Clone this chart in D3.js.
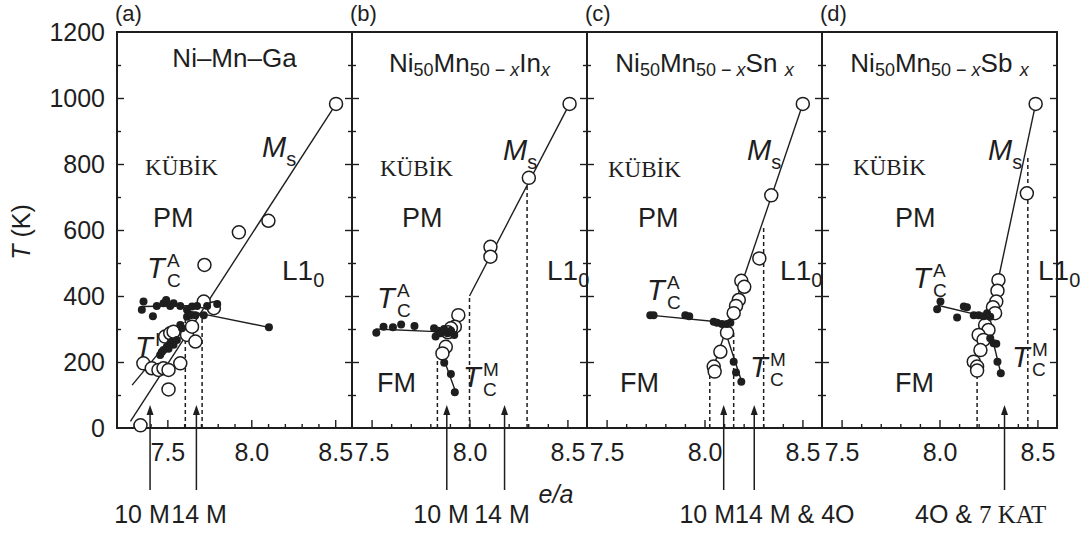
<!DOCTYPE html>
<html>
<head>
<meta charset="utf-8">
<script src="https://cdn.jsdelivr.net/npm/d3@7"></script>
<style>
body { margin: 0; background: #fff; }
</style>
</head>
<body>
<div id="chart"></div>
<script>
// ---- values ----
var panelIds = ["a", "b", "c", "d"];
var eaDomains = [[7.2, 8.6], [7.4, 8.6], [7.4, 8.6], [7.4, 8.6]];
var eaMajor = [7.5, 8.0, 8.5];
var eaMinor = [7.3, 7.4, 7.6, 7.7, 7.8, 7.9, 8.1, 8.2, 8.3, 8.4];
var tempTicks = [0, 200, 400, 600, 800, 1000, 1200];
var tempMinor = [100, 300, 500, 700, 900, 1100];

// (a) Ni-Mn-Ga   points are [e/a, T]
var openA = [[7.34, 8], [7.357, 196], [7.407, 181], [7.447, 176], [7.477, 181], [7.507, 176],
  [7.577, 196], [7.507, 117], [7.487, 277], [7.517, 287], [7.537, 292], [7.617, 282],
  [7.647, 307], [7.667, 262], [7.717, 383], [7.777, 363], [7.721, 494], [7.926, 593],
  [8.102, 628], [8.505, 982]];
var filledA = [[7.358, 383], [7.348, 358], [7.414, 339], [7.437, 370], [7.477, 378], [7.493, 388],
  [7.517, 370], [7.537, 378], [7.577, 370], [7.617, 358], [7.647, 368], [7.677, 370],
  [7.717, 342], [7.737, 370], [7.797, 376], [8.105, 305],
  [7.457, 221], [7.467, 230], [7.477, 236], [7.497, 246], [7.507, 240], [7.517, 257],
  [7.527, 262], [7.537, 252], [7.557, 267], [7.577, 312], [7.587, 302], [7.617, 337],
  [7.637, 342], [7.667, 342]];
var linesA = [[[7.28, 20], [8.505, 982]], [[7.29, 130], [7.6, 320]],
  [[7.35, 368], [7.8, 372]], [[7.62, 355], [8.105, 305]]];
var dashA = [[7.607, 337], [7.707, 342]];
var arrowsA = [7.397, 7.673];

// (b) Ni50Mn50-xInx
var openB = [[8.511, 982], [8.303, 758], [8.107, 549], [8.107, 519], [7.943, 342], [7.925, 307],
  [7.905, 302], [7.879, 246], [7.862, 226], [7.89, 290]];
var filledB = [[7.524, 289], [7.561, 307], [7.609, 305], [7.651, 314], [7.719, 309], [7.819, 302],
  [7.827, 277], [7.84, 295], [7.853, 287], [7.87, 300], [7.888, 287], [7.905, 295],
  [7.922, 282], [7.871, 198], [7.905, 164], [7.925, 108]];
var linesB = [[[7.52, 300], [7.83, 292]], [[7.85, 240], [7.93, 108]], [[8.0, 400], [8.511, 982]]];
var dashB = [[7.836, 216], [8.0, 400], [8.294, 758]];
var arrowsB = [7.884, 8.179];

// (c) Ni50Mn50-xSnx
var openC = [[8.502, 982], [8.341, 705], [8.28, 514], [8.188, 446], [8.203, 428], [8.175, 388],
  [8.161, 370], [8.149, 348], [8.115, 289], [8.081, 231], [8.047, 186], [8.052, 171]];
var filledC = [[7.723, 342], [7.74, 342], [7.902, 342], [7.922, 339], [8.047, 322], [8.064, 319],
  [8.089, 315], [8.115, 315], [8.132, 319], [8.149, 201], [8.161, 168], [8.188, 140]];
var linesC = [[[7.72, 342], [8.13, 318]], [[8.09, 322], [8.19, 140]], [[8.04, 175], [8.502, 982]]];
var dashC = [[8.027, 175], [8.149, 290], [8.302, 612]];
var arrowsC = [8.098, 8.254];

// (d) Ni50Mn50-xSbx
var openD = [[8.491, 982], [8.446, 711], [8.301, 448], [8.296, 416], [8.29, 383], [8.273, 366],
  [8.284, 348], [8.233, 312], [8.25, 297], [8.2, 282], [8.225, 267], [8.209, 236],
  [8.175, 201], [8.192, 186], [8.192, 174]];
var filledD = [[8.005, 383], [7.988, 360], [8.09, 335], [8.124, 368], [8.14, 366], [8.175, 342],
  [8.2, 342], [8.225, 339], [8.243, 348], [8.259, 337], [8.259, 272], [8.276, 257],
  [8.29, 255], [8.296, 201], [8.313, 166]];
var linesD = [[[7.99, 372], [8.2, 342]], [[8.24, 345], [8.313, 166]], [[8.30, 450], [8.491, 982]]];
var dashD = [[8.192, 160], [8.451, 820]];
var arrowsD = [8.332];

// titles (sub = subscript, it = italic)
var titleA = [{t: "Ni–Mn–Ga"}];
var titleB = [{t: "Ni"}, {t: "50", sub: 1}, {t: "Mn"}, {t: "50 − ", sub: 1}, {t: "x", sub: 1, it: 1}, {t: "In"}, {t: "x", sub: 1, it: 1}];
var titleC = [{t: "Ni"}, {t: "50", sub: 1}, {t: "Mn"}, {t: "50 − ", sub: 1}, {t: "x", sub: 1, it: 1}, {t: "Sn "}, {t: "x", sub: 1, it: 1}];
var titleD = [{t: "Ni"}, {t: "50", sub: 1}, {t: "Mn"}, {t: "50 − ", sub: 1}, {t: "x", sub: 1, it: 1}, {t: "Sb "}, {t: "x", sub: 1, it: 1}];

// region / line labels, anchored at [e/a, T]
var notesA = [["kubik", 7.367, 767], ["PM", 7.414, 609], ["TCA", 7.379, 455], ["TI", 7.307, 215], ["L10", 8.183, 448], ["Ms", 8.064, 821]];
var notesB = [["kubik", 7.543, 764], ["PM", 7.655, 609], ["TCA", 7.528, 364], ["FM", 7.528, 109], ["TCM", 7.967, 124], ["L10", 8.396, 448], ["Ms", 8.171, 812]];
var notesC = [["kubik", 7.507, 761], ["PM", 7.66, 609], ["TCA", 7.706, 388], ["FM", 7.569, 109], ["TCM", 8.232, 155], ["L10", 8.386, 448], ["Ms", 8.217, 812]];
var notesD = [["kubik", 7.558, 767], ["PM", 7.773, 609], ["TCA", 7.865, 424], ["FM", 7.773, 109], ["TCM", 8.37, 185], ["L10", 8.503, 448], ["Ms", 8.248, 812]];

// structure labels under the arrows: [e/a, text, anchor]
var bottomA = [[7.349, "10 M", "middle"], [7.689, "14 M", "middle"]];
var bottomB = [[7.855, "10 M", "middle"], [8.166, "14 M", "middle"]];
var bottomC = [[8.156, "10 M", "end"], [8.156, "14 M & 4O", "start"]];
var bottomD = [[7.875, "4O & ", "start"]];

// ---- layout ----
var W = 1083, H = 535;
var plotL = 117, plotR = 1057, plotT = 32, plotB = 428;
var panelW = (plotR - plotL) / 4;
var sans = "'Liberation Sans', Arial, sans-serif";
var serif = "'Liberation Serif', 'Times New Roman', serif";
var ink = "#1e1e1e";

var panels = [
  {open: openA, filled: filledA, lines: linesA, dash: dashA, arrows: arrowsA, title: titleA, notes: notesA, bottom: bottomA, tY: 67},
  {open: openB, filled: filledB, lines: linesB, dash: dashB, arrows: arrowsB, title: titleB, notes: notesB, bottom: bottomB, tY: 72},
  {open: openC, filled: filledC, lines: linesC, dash: dashC, arrows: arrowsC, title: titleC, notes: notesC, bottom: bottomC, tY: 72},
  {open: openD, filled: filledD, lines: linesD, dash: dashD, arrows: arrowsD, title: titleD, notes: notesD, bottom: bottomD, tY: 72}
];

var svg = d3.select("#chart").append("svg")
    .attr("width", W)
    .attr("height", H)
    .style("font-family", sans);

svg.append("rect").attr("width", W).attr("height", H).attr("fill", "#fff");

var y = d3.scaleLinear().domain([0, 1200]).range([plotB, plotT]);

// write text made of pieces, with sub/superscripts
function rich(sel, parts) {
  var prev = 0;
  parts.forEach(function(p) {
    var off = p.off || 0;
    sel.append("tspan")
      .attr("dy", off - prev)
      .attr("font-size", p.size)
      .attr("font-style", p.it ? "italic" : null)
      .attr("font-family", p.fam || null)
      .text(p.t);
    prev = off;
  });
}

function tcLabel(g, px, py, sup, sub) {
  g.append("text").attr("x", px).attr("y", py).attr("font-size", 29).attr("font-style", "italic").attr("fill", ink).text("T");
  if (sup) g.append("text").attr("x", px + 20).attr("y", py - 11).attr("font-size", 19).attr("fill", ink).text(sup);
  if (sub) g.append("text").attr("x", px + 20).attr("y", py + 9).attr("font-size", 19).attr("fill", ink).text(sub);
}

function note(g, x, n) {
  var px = x(n[1]), py = y(n[2]);
  if (n[0] == "kubik") {
    g.append("text").attr("x", px).attr("y", py).attr("font-family", serif).attr("font-size", 23).attr("fill", ink).text("KÜBİK");
  } else if (n[0] == "PM" || n[0] == "FM") {
    g.append("text").attr("x", px).attr("y", py).attr("font-size", 27).attr("fill", ink).text(n[0]);
  } else if (n[0] == "TCA") {
    tcLabel(g, px, py, "A", "C");
  } else if (n[0] == "TCM") {
    tcLabel(g, px, py, "M", "C");
  } else if (n[0] == "TI") {
    tcLabel(g, px, py, "I", null);
  } else if (n[0] == "L10") {
    rich(g.append("text").attr("x", px).attr("y", py).attr("fill", ink),
      [{t: "L1", size: 28}, {t: "0", size: 20, off: 7}]);
  } else if (n[0] == "Ms") {
    rich(g.append("text").attr("x", px).attr("y", py).attr("fill", ink),
      [{t: "M", size: 29, it: 1}, {t: "s", size: 20, off: 9}]);
  }
}

panels.forEach(function(p, i) {
  var x0 = plotL + i * panelW;
  var x = d3.scaleLinear().domain(eaDomains[i]).range([x0, x0 + panelW]);
  var g = svg.append("g");

  // axes with inward ticks
  var axes = [
    {ax: d3.axisBottom(x).tickValues(eaMajor).tickSize(-8).tickPadding(15).tickFormat(d3.format(".1f")), tr: "translate(0," + plotB + ")"},
    {ax: d3.axisBottom(x).tickValues(eaMinor.filter(function(v) { return v > eaDomains[i][0] && v < eaDomains[i][1]; })).tickSize(-4).tickFormat(""), tr: "translate(0," + plotB + ")"},
    {ax: d3.axisLeft(y).tickValues(tempTicks.slice(1, -1)).tickSize(-7).tickPadding(12).tickFormat(i == 0 ? d3.format("d") : ""), tr: "translate(" + x0 + ",0)"},
    {ax: d3.axisLeft(y).tickValues(tempMinor).tickSize(-4).tickFormat(""), tr: "translate(" + x0 + ",0)"},
    {ax: d3.axisRight(y).tickValues(tempTicks.slice(1, -1)).tickSize(-7).tickFormat(""), tr: "translate(" + (x0 + panelW) + ",0)"},
    {ax: d3.axisRight(y).tickValues(tempMinor).tickSize(-4).tickFormat(""), tr: "translate(" + (x0 + panelW) + ",0)"}
  ];
  axes.forEach(function(a) {
    var ag = g.append("g").attr("transform", a.tr).call(a.ax);
    ag.select(".domain").remove();
    ag.selectAll("line").attr("stroke", ink).attr("stroke-width", 1.4);
    ag.selectAll("text").attr("font-size", 25).attr("font-family", sans).attr("fill", ink);
  });
  if (i == 0) {
    // end labels 0 and 1200 on the frame corners
    var ends = g.append("g").attr("transform", "translate(" + x0 + ",0)")
      .call(d3.axisLeft(y).tickValues([0, 1200]).tickSize(0).tickPadding(12).tickFormat(d3.format("d")));
    ends.select(".domain").remove();
    ends.selectAll("text").attr("font-size", 25).attr("font-family", sans).attr("fill", ink);
  }

  // frame
  g.append("rect")
    .attr("x", x0).attr("y", plotT)
    .attr("width", panelW).attr("height", plotB - plotT)
    .attr("fill", "none").attr("stroke", ink).attr("stroke-width", 2);

  // panel letter
  g.append("text").attr("x", x0 - 2).attr("y", 21).attr("font-size", 22).attr("fill", ink).text("(" + panelIds[i] + ")");

  // title
  var tt = g.append("text").attr("x", x0 + panelW / 2).attr("y", p.tY)
    .attr("text-anchor", "middle").attr("fill", ink);
  rich(tt, p.title.map(function(s) {
    return {t: s.t, size: s.sub ? 18 : 26, it: s.it, off: s.sub ? 4 : 0};
  }));

  // dashed verticals
  g.selectAll(".dash").data(p.dash).enter().append("line")
    .attr("x1", function(d) { return x(d[0]); })
    .attr("x2", function(d) { return x(d[0]); })
    .attr("y1", y(0))
    .attr("y2", function(d) { return y(d[1]); })
    .attr("stroke", ink).attr("stroke-width", 1.5).attr("stroke-dasharray", "4,3");

  // solid lines
  var line = d3.line().x(function(d) { return x(d[0]); }).y(function(d) { return y(d[1]); });
  g.selectAll(".ln").data(p.lines).enter().append("path")
    .attr("d", line)
    .attr("fill", "none").attr("stroke", ink).attr("stroke-width", 1.4);

  // open circles
  g.selectAll(".open").data(p.open).enter().append("circle")
    .attr("cx", function(d) { return x(d[0]); })
    .attr("cy", function(d) { return y(d[1]); })
    .attr("r", 6.5)
    .attr("fill", "#fff").attr("stroke", ink).attr("stroke-width", 1.5);

  // filled dots
  g.selectAll(".fill").data(p.filled).enter().append("circle")
    .attr("cx", function(d) { return x(d[0]); })
    .attr("cy", function(d) { return y(d[1]); })
    .attr("r", 4)
    .attr("fill", ink);

  // labels inside the panel
  p.notes.forEach(function(n) { note(g, x, n); });

  // arrows from below the axis
  p.arrows.forEach(function(a) {
    var ax = x(a), tip = y(70);
    g.append("line").attr("x1", ax).attr("x2", ax).attr("y1", 490).attr("y2", tip + 6)
      .attr("stroke", ink).attr("stroke-width", 1.5);
    g.append("path")
      .attr("d", "M" + ax + "," + tip + "L" + (ax - 3.5) + "," + (tip + 10) + "L" + (ax + 3.5) + "," + (tip + 10) + "Z")
      .attr("fill", ink);
  });

  // structure labels
  p.bottom.forEach(function(b) {
    var t = g.append("text").attr("x", x(b[0])).attr("y", 523)
      .attr("text-anchor", b[2]).attr("font-size", 25).attr("fill", ink);
    if (i == 3) {
      rich(t, [{t: b[1], size: 25}, {t: "7 KAT", size: 25, fam: serif}]);
    } else {
      t.text(b[1]);
    }
  });
});

// axis titles
svg.append("text")
  .attr("transform", "translate(30,232) rotate(-90)")
  .attr("text-anchor", "middle").attr("font-size", 25).attr("fill", ink)
  .call(function(t) {
    t.append("tspan").attr("font-style", "italic").text("T");
    t.append("tspan").text(" (K)");
  });

svg.append("text")
  .attr("x", 556).attr("y", 503)
  .attr("text-anchor", "middle").attr("font-size", 25).attr("font-style", "italic").attr("fill", ink)
  .text("e/a");
</script>
</body>
</html>
